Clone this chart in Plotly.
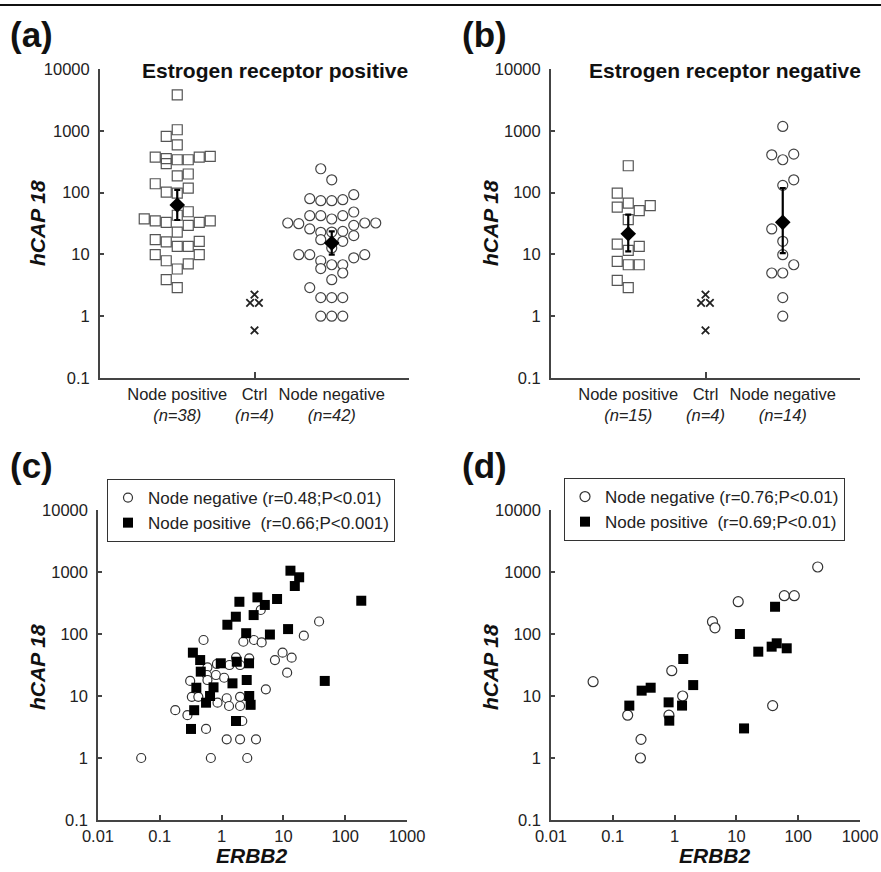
import plotly.graph_objects as go

W, H = 881, 872
FONT = "Liberation Sans, Arial, sans-serif"

# ---------------- data ----------------
Y_TICKS = [0.1, 1, 10, 100, 1000, 10000]
Y_TICKTEXT = ["0.1", "1", "10", "100", "1000", "10000"]
X_TICKS_ERBB2 = [0.01, 0.1, 1, 10, 100, 1000]
X_TICKTEXT_ERBB2 = ["0.01", "0.1", "1", "10", "100", "1000"]

CAT_POS = [1, 2, 3]
CAT_TEXT_A = ["Node positive<br><i>(n=38)</i>", "Ctrl<br><i>(n=4)</i>", "Node negative<br><i>(n=42)</i>"]
CAT_TEXT_B = ["Node positive<br><i>(n=15)</i>", "Ctrl<br><i>(n=4)</i>", "Node negative<br><i>(n=14)</i>"]

# panel (a): ER positive
a_pos_vals = [3800, 1040, 810, 590, 375, 355, 340, 340, 375, 385, 295, 187, 200, 139, 102, 98, 118,
              49, 43, 37.5, 35, 33, 29.5, 33, 35, 23, 17.4, 15.9, 13.5, 13.5, 16.3, 9.9, 7.9, 5.8, 7.0, 9.9, 3.9, 2.9]
a_pos_slot = [0, 0, -1, 0, -2, -1, 0, 1, 2, 3, -1, 0, 1, -2, -1, 0, 1,
              1, 0, -3, -2, -1, 1, 2, 3, 0, -2, -1, 0, 1, 2, -2, -1, 0, 1, 2, -1, 0]
a_neg_vals = [243, 161, 79.6, 73.9, 73.9, 76.7, 92.4, 42.3, 42.3, 37.4, 42.3, 48.5, 32.2, 31.4, 29.5, 32.2, 32.2,
              25.8, 22.8, 23.6, 20.1, 23, 17.3, 16.3, 12.7, 9.9, 9.9, 9.9, 8.8, 7.9, 5.9, 6.8, 6.8, 5.0, 3.9, 2.9,
              2, 2, 2, 1, 1, 1]
a_neg_slot = [-1, 0, -2, -1, 0, 1, 2, -2, -1, 0, 1, 2, -4, -3, 2, 3, 4,
              -2, -1, 1, 2, 0, -1, 1, 0, -3, -2, 3, 2, -1, -1, 0, 1, 1, 0, -2,
              -1, 0, 1, -1, 0, 1]
ctrl_vals = [2.24, 1.64, 1.64, 0.59]
ctrl_slot = [0, -0.4, 0.4, 0]
a_mean = [63, 15.3]
a_hi = [111, 23.6]
a_lo = [36, 9.9]

# panel (b): ER negative
b_pos_vals = [272, 98, 58.4, 67.8, 51, 61.4, 36.5, 14.7, 13.5, 11.6, 7.7, 6.8, 6.8, 3.8, 2.9]
b_pos_slot = [0, -1, -1, 0, 1, 2, 0, -1, 1, 0, -1, 0, 1, -1, 0]
b_neg_vals = [1175, 409, 340, 419, 161, 131, 25.8, 16.3, 9.9, 6.8, 5.0, 5.0, 2.0, 1.0]
b_neg_slot = [0, -1, 0, 1, 1, 0, -1, 0, 0, 1, -1, 0, 0, 0]
b_mean = [21.6, 33]
b_hi = [43.9, 118]
b_lo = [11.2, 10.5]

# panel (c): ER positive, ERBB2 vs hCAP18
c_neg_x = [0.51, 2.25, 3.34, 4.45, 4.3, 37.8, 21.4, 7.3, 9.7, 13.6, 11.5, 5.2, 1.71, 2.8, 1.34, 1.99, 0.84,
           0.59, 0.58, 0.81, 1.1, 0.31, 0.59, 0.33, 0.42, 0.86, 1.21, 1.32, 1.99, 1.99, 0.178, 0.28, 0.56,
           2.16, 1.21, 1.99, 3.6, 0.05, 0.67, 2.6]
c_neg_y = [80, 75, 80, 73, 244, 159, 94, 38, 50, 41.5, 23.8, 12.8, 42, 40.5, 31.6, 31.6, 32.8,
           29, 21.8, 21.8, 19.7, 17.5, 18.1, 9.7, 9.7, 7.8, 9.2, 6.9, 9.7, 6.9, 5.9, 4.9, 2.94,
           3.95, 2, 2, 2, 1, 1, 1]
c_pos_x = [92, 182, 13, 18, 15.3, 1.94, 3.8, 5.0, 7.9, 1.7, 1.24, 3.3, 2.5, 6.05, 11.9, 46.7, 0.343,
           0.45, 0.46, 0.97, 1.76, 2.78, 2.55, 1.5, 0.39, 0.74, 0.65, 0.56, 2.8, 2.95, 0.36, 1.71, 0.32]
c_pos_y = [3800, 344, 1050, 822, 594, 331, 390, 294, 367, 190, 141, 202, 103, 98, 120, 17.5, 50,
           38, 24.7, 33.7, 35.7, 33.7, 18.1, 16, 13.6, 13.8, 10, 7.8, 10, 7.2, 5.9, 3.95, 2.94]

# panel (d): ER negative, ERBB2 vs hCAP18
d_neg_x = [0.048, 0.174, 0.286, 0.28, 0.81, 0.9, 1.35, 4.1, 4.5, 10.7, 38.6, 59.6, 86.5, 207]
d_neg_y = [17, 4.9, 2.0, 1.0, 4.9, 25.6, 10, 158, 126, 332, 7.0, 415, 415, 1205]
d_pos_x = [0.185, 0.293, 0.41, 0.80, 0.82, 1.32, 1.38, 2.0, 11.4, 13.3, 22.6, 37.2, 44.9, 42.2, 65.2]
d_pos_y = [7.0, 12.2, 13.6, 7.9, 4.0, 7.0, 39.5, 15, 100, 3.0, 51.9, 62.5, 70.8, 275, 58.8]

LEG_C = ["Node negative (r=0.48;P<0.01)", "Node positive\u00a0\u00a0(r=0.66;P<0.001)"]
LEG_D = ["Node negative (r=0.76;P<0.01)", "Node positive\u00a0\u00a0(r=0.69;P<0.01)"]

# ---------------- style ----------------
SLOT = 0.1424
GRAY = "#444444"
OPEN_SQ = dict(symbol="square-open", size=10, color="#555555", line=dict(width=1.2))
OPEN_CI = dict(symbol="circle", size=10, color="white", line=dict(width=1.2, color="#444444"))


def px_x(p):
    return p / W


def px_y(p):
    return 1 - p / H


fig = go.Figure()


def dot_panel(xa, ya, pos_vals, pos_slot, neg_vals, neg_slot, mean, hi, lo):
    fig.add_trace(go.Scatter(
        x=[CAT_POS[0] + s * SLOT for s in pos_slot], y=pos_vals, mode="markers",
        marker=OPEN_SQ, xaxis=xa, yaxis=ya, showlegend=False))
    fig.add_trace(go.Scatter(
        x=[CAT_POS[2] + s * SLOT for s in neg_slot], y=neg_vals, mode="markers",
        marker=OPEN_CI, xaxis=xa, yaxis=ya, showlegend=False))
    fig.add_trace(go.Scatter(
        x=[CAT_POS[1] + s * SLOT for s in ctrl_slot], y=ctrl_vals, mode="markers",
        marker=dict(symbol="x-thin-open", size=7.5, color="#222222", line=dict(width=1.8, color="#222222")),
        xaxis=xa, yaxis=ya, showlegend=False))
    fig.add_trace(go.Scatter(
        x=[CAT_POS[0], CAT_POS[2]], y=mean, mode="markers",
        marker=dict(symbol="diamond", size=12, color="black"),
        error_y=dict(type="data", symmetric=False,
                     array=[h - m for h, m in zip(hi, mean)],
                     arrayminus=[m - l for m, l in zip(mean, lo)],
                     color="black", thickness=2.2, width=3),
        xaxis=xa, yaxis=ya, showlegend=False))


dot_panel("x", "y", a_pos_vals, a_pos_slot, a_neg_vals, a_neg_slot, a_mean, a_hi, a_lo)
dot_panel("x2", "y2", b_pos_vals, b_pos_slot, b_neg_vals, b_neg_slot, b_mean, b_hi, b_lo)


def scatter_panel(xa, ya, nx, ny, px_, py_, leg, labels, csize):
    fig.add_trace(go.Scatter(
        x=nx, y=ny, mode="markers", name=labels[0], legend=leg,
        marker=dict(symbol="circle", size=csize, color="white", line=dict(width=1.2, color="#333333")),
        xaxis=xa, yaxis=ya))
    fig.add_trace(go.Scatter(
        x=px_, y=py_, mode="markers", name=labels[1], legend=leg,
        marker=dict(symbol="square", size=10, color="black", line=dict(width=0)),
        xaxis=xa, yaxis=ya))


scatter_panel("x3", "y3", c_neg_x, c_neg_y, c_pos_x, c_pos_y, "legend", LEG_C, 9)
scatter_panel("x4", "y4", d_neg_x, d_neg_y, d_pos_x, d_pos_y, "legend2", LEG_D, 10)

# ---------------- axes ----------------
TICKFONT = dict(family=FONT, size=16.5, color="#222222")


def yaxis(dom, anchor, lw):
    return dict(domain=dom, anchor=anchor, type="log", range=[-1, 4], automargin=False,
                tickmode="array", tickvals=Y_TICKS, ticktext=Y_TICKTEXT,
                ticks="inside", ticklen=4, tickwidth=1.5, tickcolor=GRAY,
                showline=True, linecolor=GRAY, linewidth=lw, showgrid=False, zeroline=False,
                tickfont=TICKFONT, ticklabelstandoff=5)


def cat_xaxis(dom, anchor, text):
    return dict(domain=dom, anchor=anchor, range=[0, 4], tickmode="array", automargin=False,
                tickvals=CAT_POS, ticktext=text, ticks="", tickangle=0, showline=True, linecolor=GRAY,
                linewidth=2, showgrid=False, zeroline=False, tickfont=TICKFONT)


def tick_overlay(over, anchor):
    return dict(overlaying=over, anchor=anchor, range=[0, 4], tickmode="array", tickvals=[2, 4],
                ticks="inside", ticklen=6, tickwidth=2, tickcolor=GRAY, showticklabels=False,
                automargin=False, showgrid=False, zeroline=False, showline=False)


def log_xaxis(dom, anchor):
    return dict(domain=dom, anchor=anchor, type="log", range=[-2, 3], tickmode="array", automargin=False,
                tickvals=X_TICKS_ERBB2, ticktext=X_TICKTEXT_ERBB2, ticks="inside", ticklen=5, tickangle=0,
                tickwidth=1.5, tickcolor=GRAY, showline=True, linecolor=GRAY, linewidth=1.5,
                showgrid=False, zeroline=False, tickfont=TICKFONT, ticklabelstandoff=0)


XA = [px_x(100), px_x(409)]
XB = [px_x(551), px_x(860)]
XC = [px_x(98), px_x(407)]
YT = [px_y(378), px_y(69)]
YBOT = [px_y(820), px_y(510)]

layout = dict(
    width=W, height=H, margin=dict(l=0, r=0, t=0, b=0, pad=0, autoexpand=False),
    paper_bgcolor="white", plot_bgcolor="white",
    font=dict(family=FONT, size=16, color="#222222"),
    xaxis=cat_xaxis(XA, "y", CAT_TEXT_A), yaxis=yaxis(YT, "x", 2),
    xaxis2=cat_xaxis(XB, "y2", CAT_TEXT_B), yaxis2=yaxis(YT, "x2", 2),
    xaxis3=log_xaxis(XC, "y3"), yaxis3=yaxis(YBOT, "x3", 1.5),
    xaxis4=log_xaxis(XB, "y4"), yaxis4=yaxis(YBOT, "x4", 1.5),
    xaxis5=tick_overlay("x", "y"), xaxis6=tick_overlay("x2", "y2"),
    legend=dict(x=px_x(107), y=px_y(479), xanchor="left", yanchor="top",
                bordercolor="#333333", borderwidth=1, bgcolor="white",
                font=dict(family=FONT, size=17, color="#222222"), tracegroupgap=0),
    legend2=dict(x=px_x(564), y=px_y(478), xanchor="left", yanchor="top",
                 bordercolor="#333333", borderwidth=1, bgcolor="white",
                 font=dict(family=FONT, size=17, color="#222222"), tracegroupgap=0),
)
fig.update_layout(**layout)

# dummy traces to activate overlay tick axes
fig.add_trace(go.Scatter(x=[None], y=[None], xaxis="x5", yaxis="y", showlegend=False))
fig.add_trace(go.Scatter(x=[None], y=[None], xaxis="x6", yaxis="y2", showlegend=False))

ann = []
for txt, cx, cy in [("(a)", 31, 34), ("(b)", 484, 34), ("(c)", 31, 466), ("(d)", 484, 466)]:
    ann.append(dict(text="<b>" + txt + "</b>", x=px_x(cx), y=px_y(cy), xref="paper", yref="paper",
                    showarrow=False, font=dict(family=FONT, size=35, color="#111111"),
                    xanchor="center", yanchor="middle"))
for txt, cx, cy in [("Estrogen receptor positive", 275, 70), ("Estrogen receptor negative", 725, 70)]:
    ann.append(dict(text="<b>" + txt + "</b>", x=px_x(cx), y=px_y(cy), xref="paper", yref="paper",
                    showarrow=False, font=dict(family=FONT, size=21, color="#111111"),
                    xanchor="center", yanchor="middle"))
for cx, cy in [(37, 223), (490, 223), (37, 667), (490, 667)]:
    ann.append(dict(text="<b><i>hCAP 18</i></b>", x=px_x(cx), y=px_y(cy), xref="paper", yref="paper",
                    showarrow=False, textangle=-90, font=dict(family=FONT, size=21, color="#111111"),
                    xanchor="center", yanchor="middle"))
for cx, cy in [(252, 855), (715, 855)]:
    ann.append(dict(text="<b><i>ERBB2</i></b>", x=px_x(cx), y=px_y(cy), xref="paper", yref="paper",
                    showarrow=False, font=dict(family=FONT, size=21, color="#111111"),
                    xanchor="center", yanchor="middle"))
fig.update_layout(annotations=ann,
                  shapes=[dict(type="line", xref="paper", yref="paper", x0=0, x1=1,
                               y0=px_y(5), y1=px_y(5), line=dict(color="#111111", width=2))])

fig.write_html("out.html", config={"displayModeBar": False},
               post_script="document.body.style.margin='0px';document.body.style.overflow='hidden';")
